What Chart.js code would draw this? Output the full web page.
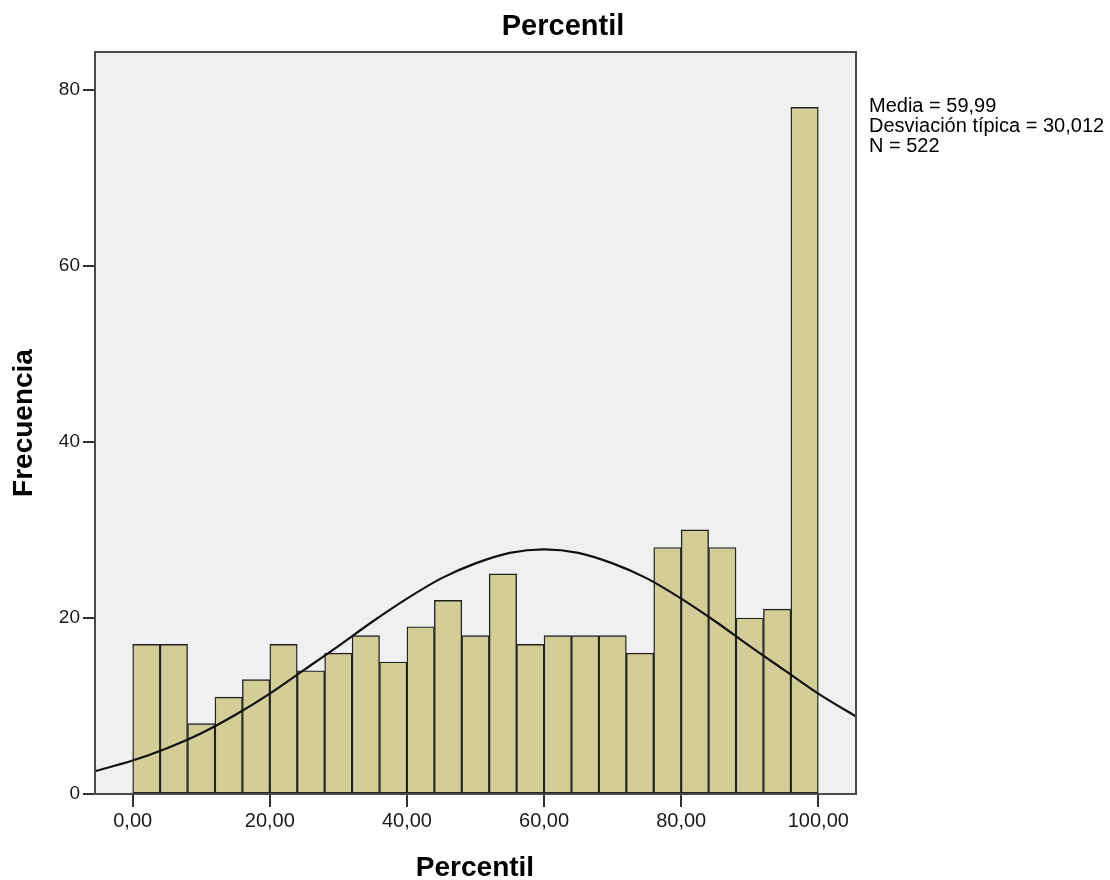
<!DOCTYPE html>
<html>
<head>
<meta charset="utf-8">
<script src="https://cdn.jsdelivr.net/npm/chart.js@4.4.1/dist/chart.umd.min.js"></script>
<style>
  html, body { margin: 0; padding: 0; background: #ffffff; }
  #wrap { width: 1110px; height: 880px; position: relative; }
</style>
</head>
<body>
<div id="wrap"><canvas id="c" width="1110" height="880"></canvas></div>
<script>
// ---- data ----
const binStarts = [0, 4, 8, 12, 16, 20, 24, 28, 32, 36, 40, 44, 48, 52, 56, 60, 64, 68, 72, 76, 80, 84, 88, 92, 96];
const binWidth = 4;
const counts = [17, 17, 8, 11, 13, 17, 14, 16, 18, 15, 19, 22, 18, 25, 17, 18, 18, 18, 16, 28, 30, 28, 20, 21, 78];

const curveX = [-5.5, 0, 5, 10, 15, 20, 25, 30, 35, 40, 45, 50, 55, 60, 65, 70, 75, 80, 85, 90, 95, 100, 105.5];
const curveY = [2.6, 3.8, 5.2, 6.9, 9.0, 11.4, 14.1, 16.8, 19.6, 22.2, 24.5, 26.2, 27.4, 27.8, 27.4, 26.2, 24.5, 22.2, 19.6, 16.8, 14.1, 11.4, 8.8];

const xTickValues = [0, 20, 40, 60, 80, 100];
const xTickLabels = ["0,00", "20,00", "40,00", "60,00", "80,00", "100,00"];
const yTickValues = [0, 20, 40, 60, 80];
const yTickLabels = ["0", "20", "40", "60", "80"];

const chartTitle = "Percentil";
const xTitle = "Percentil";
const yTitle = "Frecuencia";
const statsLines = ["Media = 59,99", "Desviación típica = 30,012", "N = 522"];

// ---- chart ----
const FONT = '"Liberation Sans", Arial, sans-serif';

const decorPlugin = {
  id: 'decor',
  beforeDatasetsDraw(chart) {
    const { ctx, chartArea: a } = chart;
    ctx.save();
    ctx.fillStyle = '#f0f0f0';
    ctx.fillRect(a.left, a.top, a.right - a.left, a.bottom - a.top);
    ctx.restore();
  },
  afterDraw(chart) {
    const { ctx, chartArea: a } = chart;
    ctx.save();
    // frame
    ctx.strokeStyle = '#4a4a4a';
    ctx.lineWidth = 2;
    ctx.strokeRect(a.left, a.top, a.right - a.left, a.bottom - a.top);

    ctx.fillStyle = '#000000';
    // title
    ctx.font = 'bold 29px ' + FONT;
    ctx.textAlign = 'center';
    ctx.textBaseline = 'alphabetic';
    ctx.fillText(chartTitle, 563, 35);
    // x title
    ctx.font = 'bold 28px ' + FONT;
    ctx.fillText(xTitle, 475, 876);
    // y title
    ctx.save();
    ctx.translate(32, 423);
    ctx.rotate(-Math.PI / 2);
    ctx.fillText(yTitle, 0, 0);
    ctx.restore();
    // stats
    ctx.font = '20px ' + FONT;
    ctx.textAlign = 'left';
    statsLines.forEach((t, i) => ctx.fillText(t, 869, 112 + i * 20));
    ctx.restore();
  }
};

new Chart(document.getElementById('c'), {
  type: 'bar',
  data: {
    datasets: [
      {
        type: 'line',
        order: 0,
        data: curveX.map((x, i) => ({ x: x, y: curveY[i] })),
        borderColor: '#111111',
        borderWidth: 2.2,
        pointRadius: 0,
        fill: false,
        cubicInterpolationMode: 'monotone'
      },
      {
        type: 'bar',
        order: 1,
        data: binStarts.map((s, i) => ({ x: s + binWidth / 2, y: counts[i] })),
        backgroundColor: '#d3ce97',
        borderColor: '#222222',
        borderWidth: 1.4,
        borderSkipped: false,
        barPercentage: 1,
        categoryPercentage: 1
      }
    ]
  },
  options: {
    responsive: false,
    animation: false,
    events: [],
    layout: { padding: { left: 0, top: 52, right: 254, bottom: 0 } },
    plugins: { legend: { display: false }, tooltip: { enabled: false }, title: { display: false } },
    scales: {
      x: {
        type: 'linear',
        min: -5.5,
        max: 105.5,
        offset: false,
        afterFit(scale) { scale.height = 86; },
        afterBuildTicks(scale) { scale.ticks = xTickValues.map(v => ({ value: v })); },
        ticks: {
          autoSkip: false,
          maxRotation: 0,
          padding: 2,
          color: '#1a1a1a',
          font: { family: FONT, size: 20 },
          callback: (v) => xTickLabels[xTickValues.indexOf(v)]
        },
        grid: { offset: false, drawOnChartArea: false, drawTicks: true, tickLength: 13, color: '#333333', lineWidth: 2 },
        border: { display: false }
      },
      y: {
        type: 'linear',
        min: 0,
        max: 84.3,
        afterFit(scale) { scale.width = 95; },
        afterBuildTicks(scale) { scale.ticks = yTickValues.map(v => ({ value: v })); },
        ticks: {
          autoSkip: false,
          padding: 3,
          color: '#1a1a1a',
          font: { family: FONT, size: 19 },
          callback: (v) => yTickLabels[yTickValues.indexOf(v)]
        },
        grid: { offset: false, drawOnChartArea: false, drawTicks: true, tickLength: 12, color: '#333333', lineWidth: 2 },
        border: { display: false }
      }
    }
  },
  plugins: [decorPlugin]
});
</script>
</body>
</html>
